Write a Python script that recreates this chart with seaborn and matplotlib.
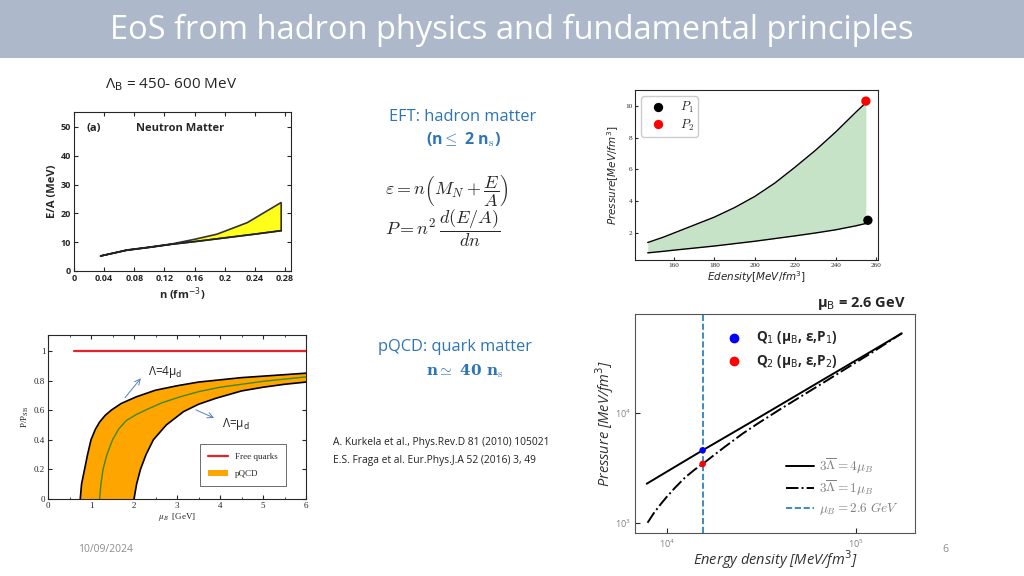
import matplotlib
matplotlib.use("Agg")
import matplotlib.pyplot as plt
import matplotlib.patches as mpatches
from matplotlib.lines import Line2D
import numpy as np
import seaborn as sns

# ---- data ----
# neutron matter E/A band
nm_n_lower = [0.035, 0.07, 0.10, 0.13, 0.16, 0.20, 0.24, 0.275]
nm_ea_lower = [5.2, 7.2, 8.2, 9.3, 10.2, 11.5, 12.8, 14.0]
nm_n_upper = [0.035, 0.07, 0.10, 0.13, 0.16, 0.19, 0.23, 0.275]
nm_ea_upper = [5.2, 7.3, 8.3, 9.4, 11.0, 12.8, 16.8, 23.8]

# hadron matter pressure band
had_eps = [147, 155, 160, 170, 180, 190, 200, 210, 220, 230, 240, 250, 255]
had_p_upper = [1.4, 1.75, 2.0, 2.5, 3.0, 3.6, 4.3, 5.15, 6.15, 7.2, 8.35, 9.6, 10.2]
had_p_lower = [0.75, 0.85, 0.92, 1.05, 1.18, 1.33, 1.48, 1.65, 1.82, 2.0, 2.2, 2.45, 2.6]
p_points_eps = [256, 255]
p_points_p = [2.8, 10.3]
p_points_lbl = ["$P_1$", "$P_2$"]

# pQCD band
free_mu = [0.6, 6.0]
free_p = [1.0, 1.0]
pq_left_mu = [0.75, 0.78, 0.85, 0.92, 1.0, 1.1, 1.2, 1.33, 1.47, 1.7, 2.05, 2.5, 3.0, 3.5,
              4.0, 4.5, 5.0, 5.5, 6.0]
pq_left_p = [0.0, 0.1, 0.2, 0.3, 0.4, 0.47, 0.52, 0.565, 0.6, 0.645, 0.69, 0.735, 0.765, 0.79,
             0.805, 0.82, 0.83, 0.84, 0.85]
pq_mid_mu = [1.2, 1.23, 1.28, 1.37, 1.5, 1.65, 1.82, 2.05, 2.3, 2.65, 3.07, 3.5, 4.0, 4.5,
             5.0, 5.5, 6.0]
pq_mid_p = [0.0, 0.1, 0.2, 0.3, 0.4, 0.475, 0.53, 0.57, 0.605, 0.65, 0.69, 0.725, 0.755, 0.775,
            0.795, 0.81, 0.825]
pq_right_mu = [2.0, 2.06, 2.15, 2.28, 2.45, 2.75, 3.15, 3.5, 3.9, 4.5, 5.0, 5.5, 6.0]
pq_right_p = [0.0, 0.1, 0.2, 0.3, 0.4, 0.5, 0.59, 0.64, 0.68, 0.73, 0.755, 0.775, 0.79]

# quark matter EoS (log-log)
qm_eps_4 = [7820, 10000, 15450, 30000, 67000, 120000, 174500]
qm_p_4 = [2275, 2930, 4580, 8900, 20100, 36200, 53000]
qm_eps_1 = [7900, 8500, 9200, 10000, 11000, 12500, 14000, 15450, 18000, 20000, 25000, 30000,
            40000, 50000, 67000, 90000, 120000, 150000, 174500]
qm_p_1 = [1005, 1220, 1460, 1735, 2080, 2600, 3050, 3440, 4220, 4850, 6450, 7950,
          10900, 13800, 18800, 25800, 35000, 44800, 53000]
q_eps = [15450, 15450]
q_p = [4580, 3440]

BLUE = "#2e75b6"

sns.set_style("ticks")
plt.rcParams["font.family"] = ["Open Sans", "DejaVu Sans"]
plt.rcParams["mathtext.fontset"] = "cm"

fig = plt.figure(figsize=(10.24, 5.76), dpi=100)

# header band
fig.patches.append(mpatches.Rectangle((0, 1 - 58 / 576), 1, 58 / 576, transform=fig.transFigure,
                                      facecolor="#adb9ca", edgecolor="none", zorder=0))
fig.text(0.5, 1 - 30 / 576, "EoS from hadron physics and fundamental principles",
         ha="center", va="center", color="white", fontsize=23.5)

# ---- top-left: neutron matter ----
ax1 = fig.add_axes([74 / 1024, 1 - 271 / 576, 217 / 1024, 159 / 576])
ax1.fill(nm_n_upper + nm_n_lower[::-1], nm_ea_upper + nm_ea_lower[::-1],
         facecolor="#ffff1a", edgecolor="#333333", linewidth=1.2)
sns.lineplot(x=nm_n_lower, y=nm_ea_lower, ax=ax1, color="#222222", lw=1.2, sort=False, estimator=None)
ax1.set_xlim(0, 0.288)
ax1.set_ylim(0, 55.2)
ax1.set_xticks([0, 0.04, 0.08, 0.12, 0.16, 0.2, 0.24, 0.28])
ax1.set_xticklabels(["0", "0.04", "0.08", "0.12", "0.16", "0.2", "0.24", "0.28"])
ax1.set_yticks([0, 10, 20, 30, 40, 50])
ax1.tick_params(direction="in", top=True, right=True, labelsize=6.5, length=3, pad=2)
for lbl in ax1.get_xticklabels() + ax1.get_yticklabels():
    lbl.set_fontweight("bold")
ax1.set_xlabel("n (fm$^{-3}$)", fontsize=8, fontweight="bold", math_fontfamily="dejavusans", labelpad=2)
ax1.set_ylabel("E/A (MeV)", fontsize=8, fontweight="bold", labelpad=2)
ax1.text(0.017, 49.6, "(a)", fontsize=8, fontweight="bold", va="center")
ax1.text(0.082, 49.6, "Neutron Matter", fontsize=8, fontweight="bold", va="center")

fig.text(105 / 1024, 1 - 85 / 576, r"Λ$_\mathrm{B}$ = 450- 600 MeV", fontsize=11,
         va="center", math_fontfamily="dejavusans")

# ---- top-right: hadron matter pressure ----
ax2 = fig.add_axes([635 / 1024, 1 - 260 / 576, 243 / 1024, 170 / 576])
ax2.fill_between(had_eps, had_p_lower, had_p_upper, color="#c7e3c7", linewidth=0)
sns.lineplot(x=had_eps, y=had_p_upper, ax=ax2, color="black", lw=1.0, sort=False, estimator=None)
sns.lineplot(x=had_eps, y=had_p_lower, ax=ax2, color="black", lw=1.0, sort=False, estimator=None)
sns.scatterplot(x=p_points_eps, y=p_points_p, hue=p_points_lbl, palette=["black", "red"],
                ax=ax2, s=45, edgecolor="none", zorder=5)
ax2.set_xlim(140.7, 261)
ax2.set_ylim(0.3, 11)
ax2.set_xticks([160, 180, 200, 220, 240, 260])
ax2.set_yticks([2, 4, 6, 8, 10])
ax2.tick_params(direction="in", labelsize=5.2, length=2, pad=2)
for lbl in ax2.get_xticklabels() + ax2.get_yticklabels():
    lbl.set_fontfamily("Liberation Serif")
ax2.set_xlabel("$Edensity[MeV/fm^3]$", fontsize=7.5, math_fontfamily="dejavusans", labelpad=1)
ax2.set_ylabel("$Pressure[MeV/fm^3]$", fontsize=7.5, math_fontfamily="dejavusans", labelpad=3)
ax2.legend(loc="upper left", fontsize=9, handletextpad=0.8, borderpad=0.3,
           labelspacing=0.2, markerscale=1.0, framealpha=1)

# ---- middle texts ----
fig.text(463 / 1024, 1 - 117 / 576, "EFT: hadron matter", ha="center", va="center",
         color=BLUE, fontsize=11.8)
fig.text(463 / 1024, 1 - 140 / 576, r"(n$\leq$ 2 n$_\mathrm{s}$)", ha="center", va="center",
         color=BLUE, fontsize=11.5, fontweight="bold")
fig.text(385 / 1024, 1 - 190 / 576, r"$\varepsilon = n\left(M_N + \dfrac{E}{A}\right)$",
         va="center", fontsize=13)
fig.text(385 / 1024, 1 - 228 / 576, r"$P = n^2\,\dfrac{d(E/A)}{dn}$", va="center", fontsize=13)

fig.text(455 / 1024, 1 - 347 / 576, "pQCD: quark matter", ha="center", va="center",
         color=BLUE, fontsize=11.8)
fig.text(465 / 1024, 1 - 371 / 576, r"n$\simeq$ 40 n$_\mathrm{s}$", ha="center", va="center",
         color=BLUE, fontsize=11, fontweight="bold", family="DejaVu Serif")
fig.text(333 / 1024, 1 - 443 / 576, "A. Kurkela et al., Phys.Rev.D 81 (2010) 105021",
         va="center", fontsize=7.4, color="#222222")
fig.text(333 / 1024, 1 - 460 / 576, "E.S. Fraga et al. Eur.Phys.J.A 52 (2016) 3, 49",
         va="center", fontsize=7.4, color="#222222")

# ---- bottom-left: pQCD pressure ratio ----
ax3 = fig.add_axes([48 / 1024, 1 - 499 / 576, 258 / 1024, 164 / 576])
band_mu = pq_left_mu + pq_right_mu[::-1]
band_p = pq_left_p + pq_right_p[::-1]
ax3.fill(band_mu, band_p, facecolor="#ffa500", edgecolor="none")
sns.lineplot(x=pq_left_mu, y=pq_left_p, ax=ax3, color="black", lw=1.2, sort=False, estimator=None)
sns.lineplot(x=pq_right_mu, y=pq_right_p, ax=ax3, color="black", lw=1.2, sort=False, estimator=None)
sns.lineplot(x=pq_mid_mu, y=pq_mid_p, ax=ax3, color="#3a8a1e", lw=1.0, sort=False, estimator=None)
sns.lineplot(x=free_mu, y=free_p, ax=ax3, color="#e8202a", lw=1.6, sort=False, estimator=None)
ax3.set_xlim(0, 6)
ax3.set_ylim(0, 1.108)
ax3.set_xticks([0, 1, 2, 3, 4, 5, 6])
ax3.set_yticks([0, 0.2, 0.4, 0.6, 0.8, 1])
ax3.set_yticklabels(["0", "0.2", "0.4", "0.6", "0.8", "1"])
ax3.set_xticks(np.arange(0, 6, 0.5), minor=True)
ax3.tick_params(which="both", direction="in", top=True, right=True, labelsize=6.5, pad=2)
ax3.tick_params(which="major", length=3)
ax3.tick_params(which="minor", length=1.5)
for lbl in ax3.get_xticklabels() + ax3.get_yticklabels():
    lbl.set_fontfamily("Liberation Serif")
ax3.set_xlabel(r"$\mu_B$  [GeV]", fontsize=6.5, family="Liberation Serif",
               math_fontfamily="stix", labelpad=1)
ax3.set_ylabel(r"P/P$_\mathrm{SB}$", fontsize=6.5, family="Liberation Serif",
               math_fontfamily="stix", labelpad=2)
ax3.annotate("", xy=(2.2, 0.83), xytext=(1.75, 0.67),
             arrowprops=dict(arrowstyle="->", color="#5b7fb8", lw=0.7))
ax3.text(2.33, 0.86, r"Λ=4μ$_\mathrm{d}$", fontsize=8.5, va="center", math_fontfamily="dejavusans")
ax3.annotate("", xy=(3.92, 0.54), xytext=(3.38, 0.61),
             arrowprops=dict(arrowstyle="->", color="#5b7fb8", lw=0.7))
ax3.text(4.04, 0.51, r"Λ=μ$_\mathrm{d}$", fontsize=8.5, va="center", math_fontfamily="dejavusans")
handles3 = [Line2D([], [], color="#e8202a", lw=1.6),
            mpatches.Patch(facecolor="#ffa500", edgecolor="none")]
leg3 = ax3.legend(handles3, ["Free quarks", "pQCD"], loc="lower right",
                  bbox_to_anchor=(0.94, 0.05), fancybox=False, edgecolor="#555555",
                  prop={"family": "Liberation Serif", "size": 6.5}, borderpad=0.9,
                  labelspacing=1.0, handlelength=2.2, framealpha=1)
leg3.get_frame().set_linewidth(0.6)

# ---- bottom-right: quark matter EoS ----
ax4 = fig.add_axes([635 / 1024, 1 - 533 / 576, 280 / 1024, 219 / 576])
sns.lineplot(x=qm_eps_4, y=qm_p_4, ax=ax4, color="black", lw=1.4, sort=False, estimator=None,
             label=r"$3\overline{\Lambda} = 4\mu_B$")
sns.lineplot(x=qm_eps_1, y=qm_p_1, ax=ax4, color="black", lw=1.4, linestyle="-.", sort=False,
             estimator=None, label=r"$3\overline{\Lambda} = 1\mu_B$")
ax4.axvline(q_eps[0], color="#1f77b4", lw=1.2, linestyle="--", label=r"$\mu_B = 2.6\ GeV$")
sns.scatterplot(x=q_eps, y=q_p, ax=ax4, hue=["Q1", "Q2"], palette=["blue", "red"],
                s=22, edgecolor="none", zorder=5, legend=False)
ax4.set_xscale("log")
ax4.set_yscale("log")
ax4.set_xlim(6780, 205000)
ax4.set_ylim(811, 79400)
ax4.tick_params(which="both", direction="in", labelsize=6.5, labelcolor="gray", pad=3)
ax4.tick_params(which="minor", length=0)
for s in ax4.spines.values():
    s.set_color("#555555")
ax4.set_xlabel("Energy density [MeV/fm$^3$]", fontsize=10.5, style="italic",
               math_fontfamily="dejavusans", color="#333333", labelpad=-1)
ax4.set_ylabel("Pressure [MeV/fm$^3$]", fontsize=10.5, style="italic",
               math_fontfamily="dejavusans", color="#333333", labelpad=-1)
leg4 = ax4.legend(loc="lower right", frameon=False, fontsize=9.5, handlelength=2.1,
                  labelspacing=0.2, borderaxespad=0.8, handletextpad=0.4)
for t in leg4.get_texts():
    t.set_color("gray")

fig.text(817 / 1024, 1 - 303 / 576, r"μ$_\mathrm{B}$ = 2.6 GeV", fontsize=10.5, fontweight="bold",
         va="center", math_fontfamily="dejavusans")
fig.add_artist(Line2D([734 / 1024], [1 - 338 / 576], marker="o", markersize=6, color="blue",
                      transform=fig.transFigure))
fig.add_artist(Line2D([734 / 1024], [1 - 361 / 576], marker="o", markersize=6, color="red",
                      transform=fig.transFigure))
fig.text(756 / 1024, 1 - 338 / 576, r"Q$_1$ (μ$_\mathrm{B}$, ε,P$_1$)", fontsize=9.8,
         fontweight="bold", va="center", math_fontfamily="dejavusans")
fig.text(756 / 1024, 1 - 361 / 576, r"Q$_2$ (μ$_\mathrm{B}$, ε,P$_2$)", fontsize=9.8,
         fontweight="bold", va="center", math_fontfamily="dejavusans")

fig.text(78 / 1024, 1 - 550 / 576, "10/09/2024", fontsize=7.5, color="#8c8c8c", va="center")
fig.text(942 / 1024, 1 - 549 / 576, "6", fontsize=7.5, color="#8c8c8c", va="center")

fig.savefig("out.png", dpi=100)
